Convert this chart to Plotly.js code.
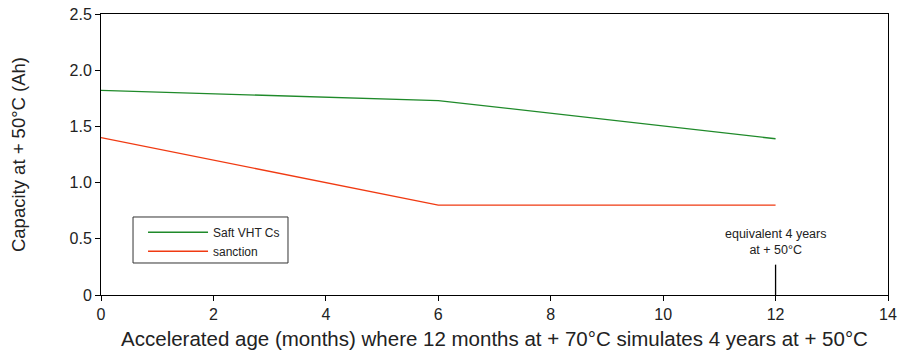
<!DOCTYPE html>
<html>
<head>
<meta charset="utf-8">
<script src="https://cdn.plot.ly/plotly-3.0.1.min.js"></script>
<style>html,body{margin:0;padding:0;background:#fff;}#chart{width:911px;height:353px;}</style>
</head>
<body>
<div id="chart"></div>
<script>
// Data
const months = [0, 6, 12];
const saftCapacity = [1.82, 1.73, 1.39];
const sanctionCapacity = [1.40, 0.80, 0.80];
const seriesNames = ["Saft VHT Cs", "sanction"];
const xTickVals = [0, 2, 4, 6, 8, 10, 12, 14];
const yTickVals = [0, 0.5, 1.0, 1.5, 2.0, 2.5];
const yTickText = ["0", "0.5", "1.0", "1.5", "2.0", "2.5"];
const markerX = 12;
const markerTop = 0.27;
const markerLabel = "equivalent 4 years<br>at + 50°C";

const font = "Liberation Sans, Arial, sans-serif";

const traces = [
  {x: months, y: saftCapacity, name: seriesNames[0], type: "scatter", mode: "lines",
   line: {color: "#1f8a2a", width: 1.3}},
  {x: months, y: sanctionCapacity, name: seriesNames[1], type: "scatter", mode: "lines",
   line: {color: "#f03a12", width: 1.3}}
];

const layout = {
  width: 911, height: 353,
  margin: {l: 101, r: 23, t: 14, b: 58},
  paper_bgcolor: "#fff", plot_bgcolor: "#fff",
  font: {family: font, color: "#222", size: 15},
  showlegend: true,
  legend: {x: 0.0534, y: 0.275, xanchor: "left", yanchor: "top",
    borderwidth: 0, bgcolor: "rgba(0,0,0,0)",
    font: {size: 12, color: "#222"}, tracegroupgap: 0,
    itemwidth: 60},
  xaxis: {range: [0, 14], tickvals: xTickVals, ticks: "outside", ticklen: 5,
    tickcolor: "#000", showline: true, linecolor: "#000", linewidth: 1, mirror: true,
    showgrid: false, zeroline: false, tickfont: {size: 16, color: "#222"},
    title: {text: "Accelerated age (months) where 12 months at + 70°C simulates 4 years at + 50°C",
      font: {size: 20.5, color: "#222"}, standoff: 9}},
  yaxis: {range: [0, 2.5], tickvals: yTickVals, ticktext: yTickText, ticks: "outside", ticklen: 5,
    tickcolor: "#000", showline: true, linecolor: "#000", linewidth: 1, mirror: true,
    showgrid: false, zeroline: false, tickfont: {size: 16, color: "#222"},
    title: {text: "Capacity at + 50°C (Ah)", font: {size: 18.5, color: "#222"}, standoff: 39}},
  shapes: [
    {type: "line", xref: "x", yref: "y", x0: markerX, x1: markerX, y0: 0, y1: markerTop,
     line: {color: "#000", width: 1.3}},
    {type: "rect", xref: "paper", yref: "paper", x0: 0.0407, x1: 0.2376, y0: 0.1139, y1: 0.2776,
     line: {color: "#333", width: 1}, fillcolor: "rgba(0,0,0,0)"}
  ],
  annotations: [
    {xref: "x", yref: "y", x: markerX, y: markerTop + 0.05, yanchor: "bottom", xanchor: "center",
     text: markerLabel, showarrow: false, font: {size: 12.5, color: "#222"}, align: "center"}
  ]
};

Plotly.newPlot("chart", traces, layout, {displayModeBar: false, staticPlot: true});
</script>
</body>
</html>
